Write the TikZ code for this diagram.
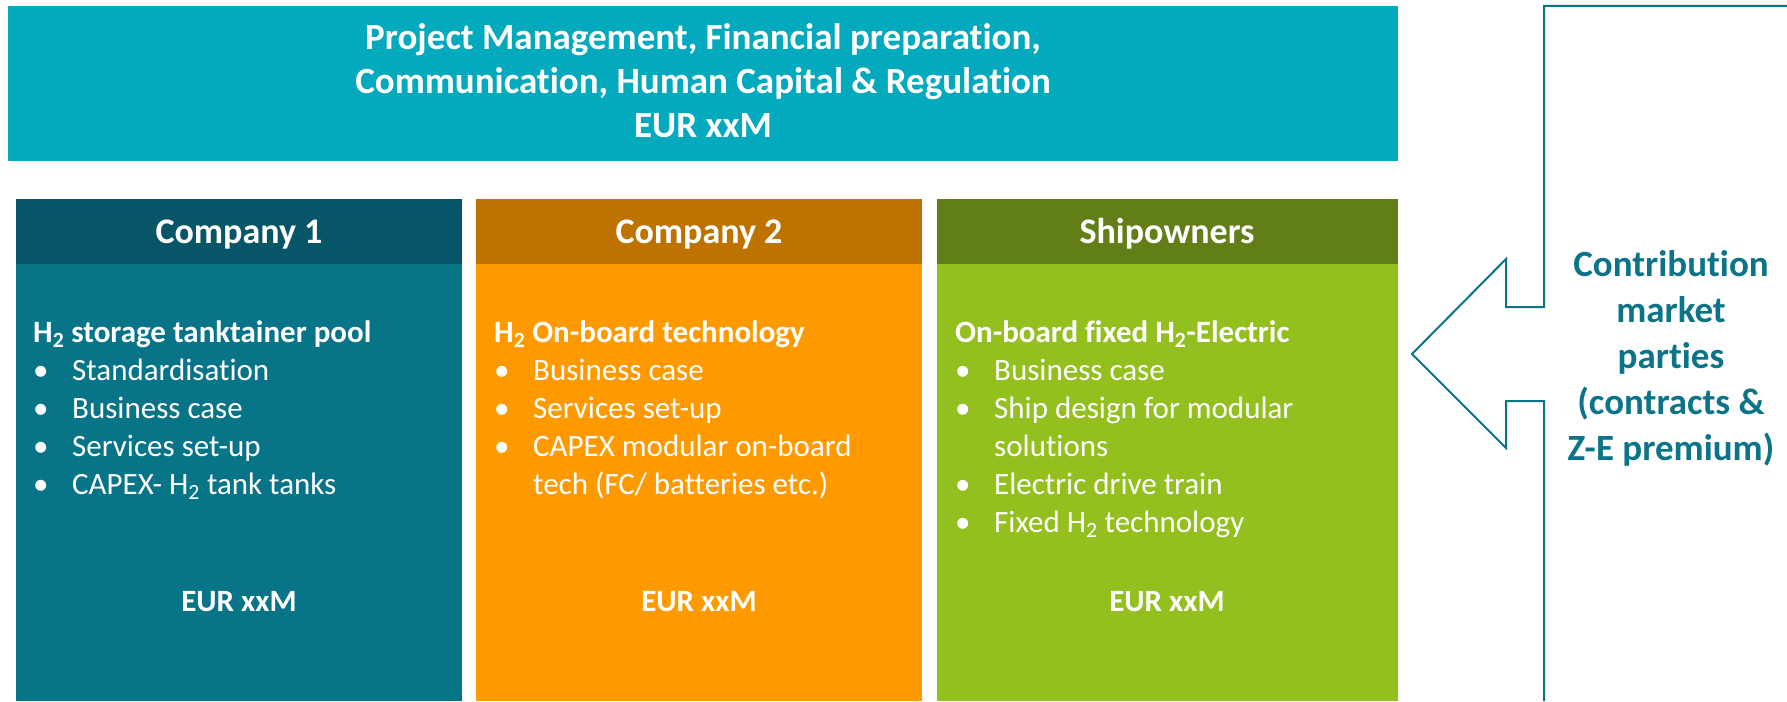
\documentclass[tikz,border=0pt]{standalone}
\usepackage{fontspec}
\setmainfont{Carlito}[RawFeature={-liga}]
\definecolor{bannerc}{HTML}{03A9BC}
\definecolor{cAhead}{HTML}{065668}
\definecolor{cAbody}{HTML}{077488}
\definecolor{cBhead}{HTML}{BE7300}
\definecolor{cBbody}{HTML}{FE9A00}
\definecolor{cChead}{HTML}{617E17}
\definecolor{cCbody}{HTML}{93C01F}
\definecolor{arrowc}{HTML}{0B7488}
\newcommand{\Hsub}{H\textsubscript{2}}
\begin{document}
\begin{tikzpicture}[x=1pt,y=-1pt,
  rectbox/.style={inner sep=0pt, outer sep=0pt, anchor=north west, draw=none},
  headtxt/.style={inner sep=0pt, anchor=base, text=white, font=\fontsize{36}{43}\selectfont\bfseries},
  bantxt/.style={inner sep=0pt, anchor=base, text=white, font=\fontsize{37}{43.5}\selectfont\bfseries},
  listtxt/.style={inner sep=0pt, anchor=base west, text=white, font=\fontsize{31}{38}\selectfont},
  eurtxt/.style={inner sep=0pt, anchor=base, text=white, font=\fontsize{31}{38}\selectfont\bfseries},
  sidetxt/.style={inner sep=0pt, anchor=base, text=arrowc, font=\fontsize{37}{46}\selectfont\bfseries},
  outline/.style={draw=arrowc, line width=2pt, line join=miter}]
\useasboundingbox (0,0) rectangle (1787,701);
\fill[white] (0,0) rectangle (1787,701);

% banner
\node[rectbox, fill=bannerc, minimum width=1390pt, minimum height=155pt] (banner) at (8,6) {};
\node[bantxt] (bannertext) at (703,50) {\begin{tabular}[t]{@{}c@{}}Project Management, Financial preparation,\\ Communication, Human Capital \& Regulation\\ EUR xxM\end{tabular}};

% column 1
\node[rectbox, fill=cAhead, minimum width=446pt, minimum height=65pt] (headA) at (16,199) {};
\node[rectbox, fill=cAbody, minimum width=446pt, minimum height=437pt] (bodyA) at (16,264) {};
\node[headtxt] (titleA) at (239,243) {Company 1};
\node[listtxt] (listA) at (33,342) {\begin{tabular}[t]{@{}p{39pt}@{}l@{}}
\multicolumn{2}{@{}l@{}}{\bfseries \Hsub{} storage tanktainer pool}\\
\textbullet & Standardisation\\
\textbullet & Business case\\
\textbullet & Services set-up\\
\textbullet & CAPEX- \Hsub{} tank tanks
\end{tabular}};
\node[eurtxt] (eurA) at (239,611) {EUR xxM};

% column 2
\node[rectbox, fill=cBhead, minimum width=446pt, minimum height=65pt] (headB) at (476,199) {};
\node[rectbox, fill=cBbody, minimum width=446pt, minimum height=437pt] (bodyB) at (476,264) {};
\node[headtxt] (titleB) at (699,243) {Company 2};
\node[listtxt] (listB) at (494,342) {\begin{tabular}[t]{@{}p{39pt}@{}l@{}}
\multicolumn{2}{@{}l@{}}{\bfseries \Hsub{} On-board technology}\\
\textbullet & Business case\\
\textbullet & Services set-up\\
\textbullet & CAPEX modular on-board\\
 & tech (FC/ batteries etc.)
\end{tabular}};
\node[eurtxt] (eurB) at (699,611) {EUR xxM};

% column 3
\node[rectbox, fill=cChead, minimum width=461pt, minimum height=65pt] (headC) at (937,199) {};
\node[rectbox, fill=cCbody, minimum width=461pt, minimum height=437pt] (bodyC) at (937,264) {};
\node[headtxt] (titleC) at (1167,243) {Shipowners};
\node[listtxt] (listC) at (955,342) {\begin{tabular}[t]{@{}p{39pt}@{}l@{}}
\multicolumn{2}{@{}l@{}}{\bfseries On-board fixed \Hsub-Electric}\\
\textbullet & Business case\\
\textbullet & Ship design for modular\\
 & solutions\\
\textbullet & Electric drive train\\
\textbullet & Fixed \Hsub{} technology
\end{tabular}};
\node[eurtxt] (eurC) at (1167,611) {EUR xxM};

% arrow outline
\coordinate (topend) at (1787,6);
\coordinate (botend) at (1544,701);
\coordinate (tip) at (1412,354);
\draw[outline] (topend) -- (1544,6) -- (1544,307) -- (1506,307) -- (1506,259) -- (tip)
  -- (1506,448) -- (1506,401) -- (1544,401) -- (botend);

\node[sidetxt] (contrib) at (1671,276) {\begin{tabular}[t]{@{}c@{}}Contribution\\ market\\ parties\\ (contracts \&\\ Z-E premium)\end{tabular}};
\end{tikzpicture}
\end{document}
